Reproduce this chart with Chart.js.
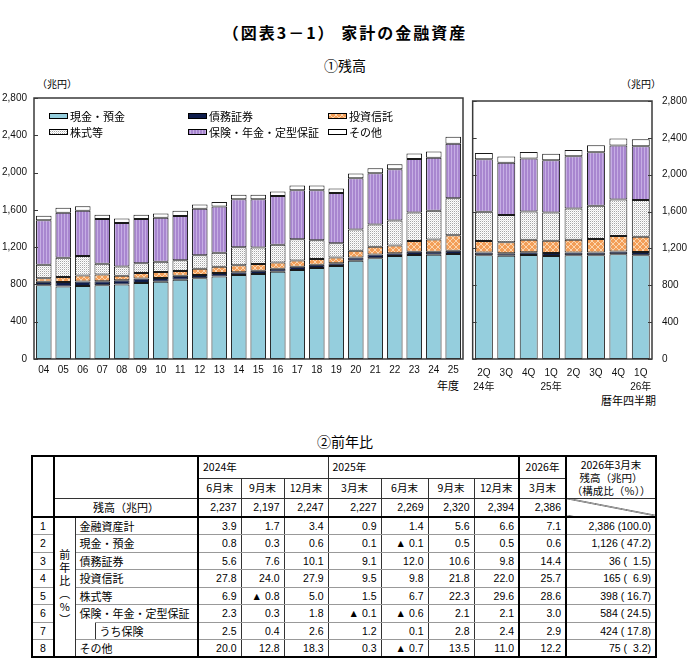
<!DOCTYPE html>
<html lang="ja">
<head>
<meta charset="utf-8">
<title>家計の金融資産</title>
<script src="https://cdn.jsdelivr.net/npm/chart.js@4.4.1/dist/chart.umd.min.js"></script>
<style>
	body { margin: 0; width: 690px; height: 663px; position: relative; overflow: hidden; background: #fff; color: #000;
		font-family: "Liberation Sans", "Noto Sans CJK JP", sans-serif; }
	.abs { position: absolute; white-space: nowrap; }
	.title { top: 20px; left: 0; width: 690px; text-align: center; font-size: 16px; letter-spacing: 2px; font-weight: bold; font-family: "Noto Sans CJK JP", sans-serif; }
	.sub { left: 0; width: 690px; text-align: center; font-size: 14px; font-family: "Noto Sans CJK JP", sans-serif; }
	.note { font-size: 10px; line-height: 12px; font-family: "Noto Sans CJK JP", sans-serif; }
	canvas.chart { position: absolute; top: 85px; }
	#fyChart { left: 0; }
	#qChart { left: 466px; }

	#yoyTable { position: absolute; left: 31px; top: 455px; width: 624px; table-layout: fixed; border-collapse: collapse;
		border: 2px solid #000; font-size: 10.5px; }
	#yoyTable td { border: 1px solid #333; padding: 0 4px; line-height: 12px; white-space: pre; overflow: hidden; }
	#yoyTable tr.h1 { height: 22px; }
	#yoyTable tr.h2 { height: 20px; }
	#yoyTable tr.h3 { height: 19px; }
	#yoyTable tr.d { height: 17.5px; }
	#yoyTable tr.d td { border-top-color: #999; border-bottom-color: #999; }
	#yoyTable td.num { text-align: right; }
	#yoyTable td.ctr { text-align: center; }
	#yoyTable td.jp { font-family: "Noto Sans CJK JP", sans-serif; font-size: 11px; }
	#yoyTable td.vr2 { border-right: 2px solid #000; }
	#yoyTable td.bt2 { border-top: 2px solid #000 !important; }
	#yoyTable td.nohead { border-top: hidden; }
	#yoyTable td.vert { text-align: center; line-height: 13px; font-family: "Noto Sans CJK JP", sans-serif; font-size: 11px; border-top-color: #000; border-bottom-color: #000; }
	#yoyTable td.diag { background: linear-gradient(to top right, transparent calc(50% - 0.8px), #000 50%, transparent calc(50% + 0.8px)); }
	#yoyTable td.lastHead { text-align: center; line-height: 13px; font-family: "Noto Sans CJK JP", sans-serif; font-size: 10.5px; }
</style>
</head>
<body>
<div class="abs title">（図表3－1） 家計の金融資産</div>
<div class="abs sub" style="top:55px">①残高</div>
<div class="abs note" style="left:37px; top:78px">（兆円）</div>
<div class="abs note" style="left:621px; top:78px">（兆円）</div>
<div class="abs note" style="left:437px; top:379px; font-size:11px">年度</div>
<div class="abs note" style="left:601px; top:394px; font-size:11px">暦年四半期</div>

<canvas id="fyChart" class="chart" width="468" height="330"></canvas>
<canvas id="qChart" class="chart" width="224" height="330"></canvas>

<div class="abs sub" style="top:431px">②前年比</div>
<table id="yoyTable"></table>

<script>
"use strict";

// ---- 残高（兆円） ----
const fiscalYears = ['04', '05', '06', '07', '08', '09', '10', '11', '12', '13', '14', '15', '16', '17', '18', '19', '20', '21', '22', '23', '24', '25'];
const quarters = [['2Q', '24年'], '3Q', '4Q', ['1Q', '25年'], '2Q', '3Q', '4Q', ['1Q', '26年']];
const seriesNames = ['現金・預金', '債務証券', '投資信託', '株式等', '保険・年金・定型保証', 'その他'];
const yTicks = [0, 400, 800, 1200, 1600, 2000, 2400, 2800];

// 年度末
const fyCash = [790, 779, 783, 790, 800, 814, 828, 849, 867, 885, 902, 913, 937, 955, 976, 997, 1053, 1081, 1106, 1116, 1119, 1126];
const fyBonds = [38, 46, 49, 45, 46, 49, 42, 43, 35, 38, 28, 35, 32, 35, 35, 31, 35, 39, 28, 35, 32, 36];
const fyTrusts = [39, 56, 63, 71, 46, 60, 64, 52, 67, 67, 77, 70, 66, 67, 63, 60, 74, 84, 84, 116, 131, 165];
const fyStocks = [144, 204, 211, 115, 101, 105, 108, 116, 144, 151, 193, 179, 190, 228, 200, 155, 228, 239, 267, 305, 309, 398];
const fyInsurance = [477, 484, 484, 481, 467, 474, 474, 474, 498, 495, 513, 516, 523, 526, 537, 537, 548, 551, 551, 573, 567, 584];
const fyOther = [49, 53, 49, 46, 46, 46, 46, 56, 46, 49, 49, 49, 49, 49, 49, 49, 52, 52, 52, 59, 69, 75];

// 四半期末
const qCash = [1127, 1120, 1130, 1119, 1126, 1126, 1136, 1126];
const qBonds = [28, 28, 28, 32, 31, 31, 31, 36];
const qTrusts = [126, 119, 137, 131, 138, 145, 167, 165];
const qStocks = [316, 295, 306, 309, 337, 361, 397, 398];
const qInsurance = [572, 569, 575, 567, 569, 581, 587, 584];
const qOther = [68, 66, 71, 69, 68, 76, 76, 75];

// ---- 前年比（％） ----
const tableYears = [['2024年', 3], ['2025年', 4], ['2026年', 1]];
const tableMonths = ['6月末', '9月末', '12月末', '3月末', '6月末', '9月末', '12月末', '3月末'];
const balances = [2237, 2197, 2247, 2227, 2269, 2320, 2394, 2386];
const rowLabels = ['金融資産計', '現金・預金', '債務証券', '投資信託', '株式等', '保険・年金・定型保証', 'うち保険', 'その他'];
const yoyTotal = [3.9, 1.7, 3.4, 0.9, 1.4, 5.6, 6.6, 7.1];
const yoyCash = [0.8, 0.3, 0.6, 0.1, -0.1, 0.5, 0.5, 0.6];
const yoyBonds = [5.6, 7.6, 10.1, 9.1, 12.0, 10.6, 9.8, 14.4];
const yoyTrusts = [27.8, 24.0, 27.9, 9.5, 9.8, 21.8, 22.0, 25.7];
const yoyStocks = [6.9, -0.8, 5.0, 1.5, 6.7, 22.3, 29.6, 28.6];
const yoyInsurance = [2.3, 0.3, 1.8, -0.1, -0.6, 2.1, 2.1, 3.0];
const yoyLife = [2.5, 0.4, 2.6, 1.2, 0.1, 2.8, 2.4, 2.9];
const yoyOther = [20.0, 12.8, 18.3, 0.3, -0.7, 13.5, 11.0, 12.2];
const lastAmounts = [2386, 1126, 36, 165, 398, 584, 424, 75];
const lastShares = [100.0, 47.2, 1.5, 6.9, 16.7, 24.5, 17.8, 3.2];


function makeFill(kind) {
	const c = document.createElement('canvas');
	const g = c.getContext('2d');
	if (kind === 'dots') {
		c.width = 2; c.height = 2;
		g.fillStyle = '#ffffff'; g.fillRect(0, 0, 2, 2);
		g.fillStyle = '#a6a6a6'; g.fillRect(0, 0, 1, 1);
		g.fillStyle = '#e2e2e2'; g.fillRect(1, 1, 1, 1);
	} else if (kind === 'stripes') {
		c.width = 3; c.height = 1;
		g.fillStyle = '#a886cf'; g.fillRect(0, 0, 3, 1);
		g.fillStyle = '#c6aee4'; g.fillRect(1, 0, 1, 1);
	} else if (kind === 'lattice') {
		c.width = 6; c.height = 6;
		g.fillStyle = '#f39e58'; g.fillRect(0, 0, 6, 6);
		g.fillStyle = '#fbd6b0';
		for (let i = 0; i < 6; i++) {
			g.fillRect(i, i, 1, 1);
			g.fillRect(5 - i, i, 1, 1);
		}
	}
	return g.createPattern(c, 'repeat');
}

function eventHandler() {

	Chart.defaults.font.family = '"Liberation Sans", "Noto Sans CJK JP", sans-serif';
	Chart.defaults.color = '#111';

	const fills = ['#95cedd', '#0f1d4c', makeFill('lattice'), makeFill('dots'), makeFill('stripes'), '#ffffff'];

	function buildDatasets(values) {
		return seriesNames.map((name, i) => ({
			label: name,
			data: values[i],
			backgroundColor: fills[i],
			borderColor: '#1a1a1a',
			borderWidth: 1,
			borderSkipped: false,
			barPercentage: 0.8,
			categoryPercentage: 1
		}));
	}

	// 枠線と内向きの目盛
	const framePlugin = {
		id: 'frame',
		afterDraw(chart) {
			const { ctx, chartArea: a } = chart;
			const y = chart.scales.y;
			const both = chart.canvas.id === 'qChart';
			ctx.save();
			ctx.strokeStyle = '#3a3a3a';
			ctx.lineWidth = 1.5;
			ctx.strokeRect(a.left, a.top, a.right - a.left, a.bottom - a.top);
			ctx.lineWidth = 1;
			ctx.beginPath();
			yTicks.forEach((v) => {
				const py = Math.round(y.getPixelForValue(v)) + 0.5;
				ctx.moveTo(a.left, py); ctx.lineTo(a.left + 4, py);
				if (both) { ctx.moveTo(a.right - 4, py); ctx.lineTo(a.right, py); }
			});
			ctx.stroke();
			ctx.restore();
		}
	};

	// 凡例（左グラフの内側）
	const legendPlugin = {
		id: 'boxLegend',
		afterDraw(chart) {
			const { ctx, chartArea: a } = chart;
			const cols = [15, 154, 294];
			const rows = [18, 34];
			ctx.save();
			ctx.font = '11px "Noto Sans CJK JP"';
			ctx.textBaseline = 'middle';
			chart.data.datasets.forEach((ds, i) => {
				const x = a.left + cols[i % 3];
				const yy = a.top + rows[Math.floor(i / 3)];
				ctx.fillStyle = ds.backgroundColor;
				ctx.fillRect(x, yy - 3, 19, 6);
				ctx.strokeStyle = '#000';
				ctx.lineWidth = 1;
				ctx.strokeRect(x + 0.5, yy - 2.5, 18, 5);
				ctx.fillStyle = '#000';
				ctx.fillText(ds.label, x + 21, yy + 0.5);
			});
			ctx.restore();
		}
	};

	function chartOptions(side) {
		const left = side === 'left';
		return {
			responsive: false,
			animation: false,
			layout: { padding: left ? { top: 8, right: 5, bottom: 6, left: 0 } : { top: 8, right: 0, bottom: 6, left: 5 } },
			plugins: { legend: { display: false }, tooltip: { enabled: false } },
			scales: {
				x: {
					stacked: true,
					grid: { display: false, drawTicks: false },
					border: { display: false },
					ticks: { font: { size: 10, lineHeight: 1.4 }, maxRotation: 0, autoSkip: false, padding: left ? 4 : 7 },
					afterFit(scale) { scale.height = 50; }
				},
				y: {
					stacked: true,
					position: side,
					min: yTicks[0],
					max: yTicks[yTicks.length - 1],
					grid: { display: false, drawTicks: false },
					border: { display: false },
					ticks: {
						stepSize: yTicks[1] - yTicks[0],
						font: { size: 10 },
						padding: left ? 7 : 10,
						callback: (v) => v.toLocaleString('en-US')
					},
					afterFit(scale) { scale.width = left ? 34 : 38; }
				}
			}
		};
	}

	new Chart(document.getElementById('fyChart'), {
		type: 'bar',
		data: {
			labels: fiscalYears,
			datasets: buildDatasets([fyCash, fyBonds, fyTrusts, fyStocks, fyInsurance, fyOther])
		},
		options: chartOptions('left'),
		plugins: [framePlugin, legendPlugin]
	});

	new Chart(document.getElementById('qChart'), {
		type: 'bar',
		data: {
			labels: quarters,
			datasets: buildDatasets([qCash, qBonds, qTrusts, qStocks, qInsurance, qOther])
		},
		options: chartOptions('right'),
		plugins: [framePlugin]
	});

	buildTable();
}

function fmtRate(v) {
	return v < 0 ? '▲ ' + Math.abs(v).toFixed(1) : v.toFixed(1);
}

// 年ブロックの最後の列（太線）
function blockEnds() {
	const ends = [];
	let n = 0;
	tableYears.forEach(([, span]) => { n += span; ends.push(n - 1); });
	return ends;
}

function buildTable() {
	const colWidths = [22, 21, 20, 103, 43, 43, 44, 53, 47, 46, 45, 47, 90];
	const rates = [yoyTotal, yoyCash, yoyBonds, yoyTrusts, yoyStocks, yoyInsurance, yoyLife, yoyOther];
	const ends = blockEnds();
	const thick = (j) => (ends.indexOf(j) >= 1 ? ' vr2' : '');

	let html = '<colgroup>' + colWidths.map((w) => '<col style="width:' + w + 'px">').join('') + '</colgroup>';

	html += '<tr class="h1"><td rowspan="3" class="vr2"></td><td colspan="3" rowspan="2" class="vr2"></td>';
	tableYears.forEach(([y, span], k) => {
		html += '<td colspan="' + span + '" class="jp' + (k >= 1 ? ' vr2' : '') + '" style="font-size:10.5px' + (span === 1 ? ';text-align:center' : '') + '">' + y + '</td>';
	});
	html += '<td rowspan="2" class="lastHead">2026年3月末\n残高（兆円）\n（構成比（％））</td></tr>';

	html += '<tr class="h2">' + tableMonths.map((m, j) => '<td class="ctr jp' + thick(j) + '" style="font-size:10.5px">' + m + '</td>').join('') + '</tr>';

	html += '<tr class="h3"><td colspan="3" class="ctr jp vr2">残高（兆円）</td>';
	html += balances.map((b, j) => '<td class="num' + thick(j) + '">' + b.toLocaleString('en-US') + '</td>').join('');
	html += '<td class="diag"></td></tr>';

	rowLabels.forEach((label, i) => {
		const top = i === 0 ? ' bt2' : '';
		html += '<tr class="d"><td class="ctr vr2' + top + '">' + (i + 1) + '</td>';
		if (i === 0) {
			html += '<td rowspan="8" class="vert bt2">前\n年\n比\n︵\n%\n︶</td>';
		}
		if (label === 'うち保険') {
			html += '<td class="nohead"></td><td class="jp vr2">' + label + '</td>';
		} else {
			html += '<td colspan="2" class="jp vr2' + top + '">' + label + '</td>';
		}
		html += rates[i].map((v, j) => '<td class="num' + thick(j) + top + '">' + fmtRate(v) + '</td>').join('');
		html += '<td class="num' + top + '">' + lastAmounts[i].toLocaleString('en-US') + ' (' + lastShares[i].toFixed(1).padStart(5, ' ') + ')</td></tr>';
	});

	document.getElementById('yoyTable').innerHTML = html;
}

if (document.readyState !== 'loading') {
	eventHandler();
} else {
	document.addEventListener('DOMContentLoaded', eventHandler);
}
</script>
</body>
</html>
